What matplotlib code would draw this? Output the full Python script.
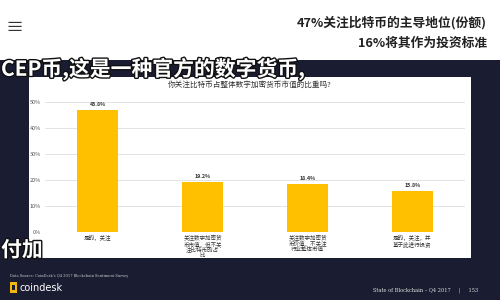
import matplotlib
matplotlib.use("Agg")
import matplotlib.pyplot as plt
import matplotlib.patches as mpatches
import matplotlib.patheffects as pe

plt.rcParams['font.family'] = ['Noto Sans CJK SC', 'DejaVu Sans']

# ---- data ----
categories = [
    "是的，关注",
    "关注数字加密货\n币市值，但不关\n注比特币的占\n比",
    "关注数字加密货\n币价值，不关注\n行业整体市值",
    "是的，关注，并\n基于此进行投资",
]
values = [46.8, 19.2, 18.4, 15.8]
yticks = [0, 10, 20, 30, 40, 50]
chart_title = "你关注比特币占整体数字加密货币市值的比重吗?"
headline1 = "47%关注比特币的主导地位(份额)"
headline2 = "16%将其作为投资标准"
subtitle1 = "CEP币,这是一种官方的数字货币,"
subtitle2 = "付加"
source_text = "Data Source: CoinDesk's Q4 2017 Blockchain Sentiment Survey"
footer_text = "State of Blockchain – Q4 2017     |     153"

W, H = 500, 300
NAVY = "#1a1d32"
GOLD = "#FFC000"

fig = plt.figure(figsize=(W / 100, H / 100), dpi=100)
fig.patch.set_facecolor("white")

def fx(x):
    return x / W

def fy(y):
    return 1 - y / H

def rect(x0, y0, x1, y1, color, z=0):
    fig.patches.append(mpatches.Rectangle((fx(x0), fy(y1)), fx(x1) - fx(x0), fy(y0) - fy(y1),
                                          transform=fig.transFigure, facecolor=color,
                                          edgecolor="none", zorder=z))

# backgrounds
rect(0, 60, 500, 300, NAVY, 0)
rect(29, 77, 471, 258, "white", 1)

# top header
fig.text(fx(14), fy(28), "≡", fontsize=13, color="#333333", ha="center", va="center")
fig.text(fx(487), fy(23), headline1, fontsize=9.2, fontweight="bold", color="#222222",
         ha="right", va="center")
fig.text(fx(487), fy(43), headline2, fontsize=9.2, fontweight="bold", color="#222222",
         ha="right", va="center")

# chart axes
ax = fig.add_axes([fx(45), fy(232), fx(465) - fx(45), fy(102) - fy(232)])
ax.set_zorder(3)
ax.patch.set_alpha(0)
x = list(range(len(values)))
bars = ax.bar(x, values, width=0.39, color=GOLD, zorder=3)
ax.set_xlim(-0.5, len(values) - 0.5)
ax.set_ylim(0, 50)
ax.set_yticks(yticks)
ax.set_yticklabels([f"{t}%" for t in yticks], fontsize=4, color="#555555")
ax.tick_params(axis="y", length=0, pad=3)
ax.set_xticks(x)
ax.set_xticklabels(categories, fontsize=4, color="#333333", linespacing=1.0, va="top")
ax.tick_params(axis="x", length=0, pad=2)
ax.grid(axis="y", color="#dedede", linewidth=0.6, zorder=0)
for s in ax.spines.values():
    s.set_visible(False)
for xi, v in zip(x, values):
    ax.text(xi, v + 1.2, f"{v:.1f}%", ha="center", va="bottom", fontsize=3.8,
            fontweight="bold", color="#333333", clip_on=False)

fig.text(fx(250), fy(85), chart_title, fontsize=5.5, color="#333333", ha="center",
         va="center", zorder=4)

# subtitles (white with dark outline)
outline = [pe.withStroke(linewidth=2.0, foreground="#111111")]
fig.text(fx(1), fy(69), subtitle1, fontsize=15, color="white", fontweight="bold",
         ha="left", va="center", zorder=5, path_effects=outline)
fig.text(fx(1), fy(250), subtitle2, fontsize=15, color="white", fontweight="bold",
         ha="left", va="center", zorder=5, path_effects=outline)

# footer
fig.text(fx(10), fy(276), source_text, fontsize=2.6, color="#cccccc", ha="left",
         va="center", family="DejaVu Serif", zorder=5)
rect(10, 282, 17, 293, "#f2b70f", 5)
rect(12, 285, 15, 290, NAVY, 6)
fig.text(fx(20), fy(288), "coindesk", fontsize=7, color="white", ha="left", va="center",
         family="DejaVu Sans", zorder=5)
fig.text(fx(478), fy(290), footer_text, fontsize=3.6, color="#dddddd", ha="right",
         va="center", family="DejaVu Serif", zorder=5)

fig.savefig("out.png", dpi=100, facecolor=fig.get_facecolor())
